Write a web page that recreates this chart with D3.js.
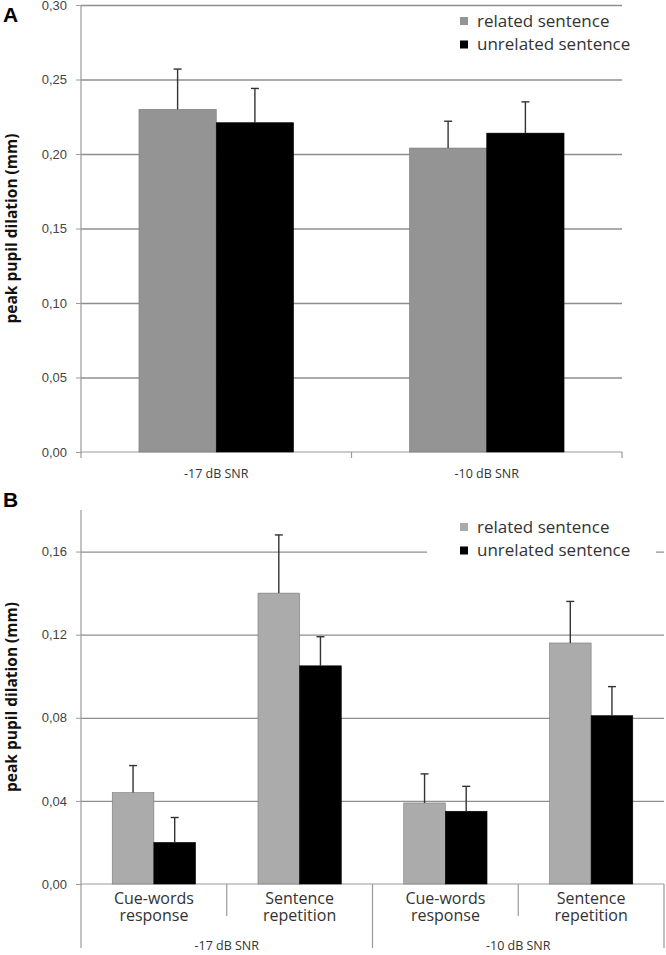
<!DOCTYPE html>
<html lang="en">
<head>
  <meta charset="UTF-8" />
  <title>Peak pupil dilation</title>
  <script src="https://d3js.org/d3.v7.min.js"></script>
  <style>
    body { margin: 0; padding: 0; background: #fff; }
    svg { display: block; font-family: "Open Sans", "DejaVu Sans", sans-serif; }
    .tick text { fill: #444; font-size: 13px; }
    .grid line { stroke: #8f8f8f; stroke-width: 1.3; }
    .grid .domain { display: none; }
    .axis-line { stroke: #9a9a9a; stroke-width: 1.2; fill: none; }
    .err { stroke: #333; stroke-width: 1.4; }
    .ylabel { font-weight: bold; font-size: 15.5px; fill: #111; }
    .panel { font-family: Arial, "Liberation Sans", sans-serif; font-weight: bold; font-size: 21px; fill: #000; }
    .legend text { font-size: 17px; fill: #333; }
    .cat { font-size: 12.5px; fill: #333; }
    .sub { font-size: 16px; fill: #333; }
  </style>
</head>
<body>
  <div id="chart"></div>
  <script>
    // ---- data (panel A) ----
    const seriesNames = ["related sentence", "unrelated sentence"];
    const groupsA = ["-17 dB SNR", "-10 dB SNR"];
    const relatedA = [0.230, 0.204];
    const relatedErrA = [0.027, 0.018];
    const unrelatedA = [0.221, 0.214];
    const unrelatedErrA = [0.023, 0.021];
    const ticksA = [0, 0.05, 0.10, 0.15, 0.20, 0.25, 0.30];

    // ---- data (panel B) ----
    const groupsB = ["-17 dB SNR", "-10 dB SNR"];
    const conditionsB = [["Cue-words", "response"], ["Sentence", "repetition"], ["Cue-words", "response"], ["Sentence", "repetition"]];
    const relatedB = [0.044, 0.140, 0.039, 0.116];
    const relatedErrB = [0.013, 0.028, 0.014, 0.020];
    const unrelatedB = [0.020, 0.105, 0.035, 0.081];
    const unrelatedErrB = [0.012, 0.014, 0.012, 0.014];
    const ticksB = [0, 0.04, 0.08, 0.12, 0.16];

    const width = 666, height = 955;
    const colorsA = ["#949494", "#000000"];
    const colorsB = ["#ababab", "#000000"];

    const locale = d3.formatLocale({ decimal: ",", thousands: ".", grouping: [3], currency: ["", ""] });
    const fmt = locale.format(".2f");

    const svg = d3.select("#chart").append("svg")
      .attr("width", width)
      .attr("height", height);

    // draws one bar panel (grid, axis, bars, error bars, legend)
    function drawPanel(opt) {
      const g = svg.append("g");
      const y = d3.scaleLinear().domain(opt.domain).range([opt.bottom, opt.top]);
      const x = d3.scaleBand().domain(d3.range(opt.related.length)).range([opt.left, opt.right]);
      const xs = d3.scaleBand().domain([0, 1]).range([0, x.bandwidth()]).paddingInner(0).paddingOuter(0.75);

      // gridlines
      g.append("g")
        .attr("class", "grid")
        .attr("transform", `translate(${opt.left},0)`)
        .call(d3.axisLeft(y).tickValues(opt.ticks.filter(t => t > 0)).tickSize(-(opt.right - opt.left)).tickFormat(""));

      // baseline
      g.append("line").attr("class", "axis-line")
        .attr("x1", opt.left).attr("x2", opt.right)
        .attr("y1", y(0)).attr("y2", y(0));

      // y axis with labels
      const yAxis = g.append("g")
        .attr("transform", `translate(${opt.left},0)`)
        .call(d3.axisLeft(y).tickValues(opt.ticks).tickSize(5).tickPadding(9).tickFormat(fmt));
      yAxis.select(".domain").remove();
      yAxis.selectAll(".tick line").attr("stroke", "#9a9a9a");

      // vertical axis line
      g.append("line").attr("class", "axis-line")
        .attr("x1", opt.left).attr("x2", opt.left)
        .attr("y1", opt.top).attr("y2", y(0));

      const rows = opt.related.map((v, i) => [
        { s: 0, i, v, e: opt.relatedErr[i] },
        { s: 1, i, v: opt.unrelated[i], e: opt.unrelatedErr[i] }
      ]).flat();

      // bars
      g.selectAll("rect.bar").data(rows).enter().append("rect")
        .attr("class", "bar")
        .attr("x", d => x(d.i) + xs(d.s))
        .attr("width", xs.bandwidth())
        .attr("y", d => y(d.v))
        .attr("height", d => y(0) - y(d.v))
        .attr("fill", d => opt.colors[d.s])
        .attr("stroke", d => d.s === 0 ? "#7a7a7a" : "#000")
        .attr("stroke-width", 0.6);

      // error bars (upper only)
      const cx = d => x(d.i) + xs(d.s) + xs.bandwidth() / 2;
      g.selectAll("line.err-v").data(rows).enter().append("line")
        .attr("class", "err")
        .attr("x1", cx).attr("x2", cx)
        .attr("y1", d => y(d.v)).attr("y2", d => y(d.v + d.e));
      g.selectAll("line.err-c").data(rows).enter().append("line")
        .attr("class", "err")
        .attr("x1", d => cx(d) - 4).attr("x2", d => cx(d) + 4)
        .attr("y1", d => y(d.v + d.e)).attr("y2", d => y(d.v + d.e));

      // y label
      g.append("text").attr("class", "ylabel")
        .attr("transform", `translate(17,${(opt.top + opt.bottom) / 2}) rotate(-90)`)
        .attr("text-anchor", "middle")
        .text("peak pupil dilation (mm)");

      // panel letter
      g.append("text").attr("class", "panel")
        .attr("x", 3).attr("y", opt.letterY)
        .text(opt.letter);

      // legend
      const lg = g.append("g").attr("class", "legend");
      if (opt.legendBg) {
        lg.append("rect")
          .attr("x", opt.legendBg[0]).attr("y", opt.legendBg[1])
          .attr("width", opt.legendBg[2]).attr("height", opt.legendBg[3])
          .attr("fill", "#fff");
      }
      seriesNames.forEach((name, k) => {
        const ly = opt.legendY + k * 23.5;
        lg.append("rect")
          .attr("x", 460).attr("y", ly - 4)
          .attr("width", 8).attr("height", 8)
          .attr("fill", opt.colors[k]);
        lg.append("text")
          .attr("x", 477).attr("y", ly)
          .attr("dy", "0.33em")
          .text(name);
      });

      return { g, x, y };
    }

    // ---- Panel A ----
    const pA = drawPanel({
      letter: "A", letterY: 22,
      left: 81, right: 622, top: 5, bottom: 452,
      domain: [0, 0.30], ticks: ticksA,
      related: relatedA, relatedErr: relatedErrA,
      unrelated: unrelatedA, unrelatedErr: unrelatedErrA,
      colors: colorsA, legendY: 21
    });

    // category ticks & labels A
    const boundsA = [0, 1, 2].map(i => 81 + i * (622 - 81) / groupsA.length);
    pA.g.selectAll("line.ctick").data(boundsA).enter().append("line")
      .attr("class", "axis-line")
      .attr("x1", d => d).attr("x2", d => d)
      .attr("y1", 452).attr("y2", 458);
    pA.g.selectAll("text.cat").data(groupsA).enter().append("text")
      .attr("class", "cat")
      .attr("x", (d, i) => pA.x(i) + pA.x.bandwidth() / 2)
      .attr("y", 474).attr("dy", "0.35em")
      .attr("text-anchor", "middle")
      .text(d => d);

    // ---- Panel B ----
    const pB = drawPanel({
      letter: "B", letterY: 507,
      left: 81, right: 664, top: 510, bottom: 884,
      domain: [0, 0.18], ticks: ticksB,
      related: relatedB, relatedErr: relatedErrB,
      unrelated: unrelatedB, unrelatedErr: unrelatedErrB,
      colors: colorsB, legendY: 527,
      legendBg: [427, 514, 229, 48]
    });

    // condition labels (two lines) and separators B
    const stepB = pB.x.step();
    pB.g.selectAll("line.sep").data(d3.range(conditionsB.length + 1)).enter().append("line")
      .attr("class", "axis-line")
      .attr("x1", i => 81 + i * stepB).attr("x2", i => 81 + i * stepB)
      .attr("y1", 884)
      .attr("y2", i => i % 2 === 0 ? 948 : 916);
    conditionsB.forEach((lines, i) => {
      lines.forEach((w, k) => {
        pB.g.append("text").attr("class", "sub")
          .attr("text-anchor", "middle")
          .attr("x", pB.x(i) + pB.x.bandwidth() / 2)
          .attr("y", 899 + k * 17.5)
          .attr("dy", "0.3em")
          .text(w);
      });
    });
    pB.g.selectAll("text.cat").data(groupsB).enter().append("text")
      .attr("class", "cat")
      .attr("x", (d, i) => 81 + (i * 2 + 1) * stepB)
      .attr("y", 946).attr("dy", "0.35em")
      .attr("text-anchor", "middle")
      .text(d => d);
  </script>
</body>
</html>
